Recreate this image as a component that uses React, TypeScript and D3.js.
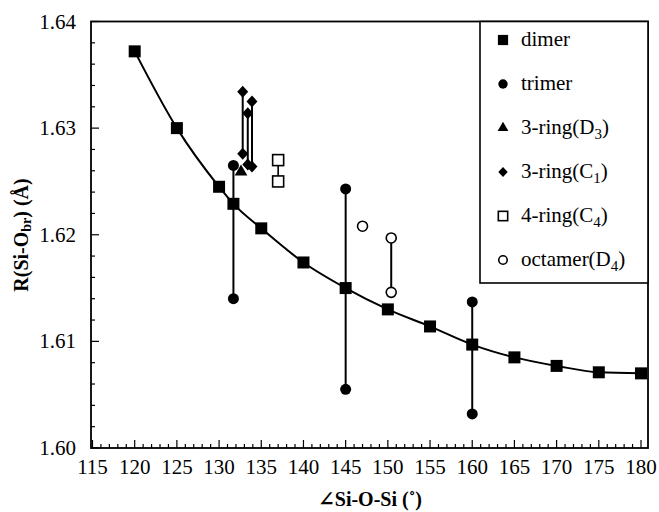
import React from "react";
import * as d3 from "d3";

// Si–O bridging bond length vs Si–O–Si angle for several silicate clusters
const dimerAngle = [120, 125, 130, 131.7, 135, 140, 145, 150, 155, 160, 165, 170, 175, 180];
const dimerR = [1.6372, 1.63, 1.6245, 1.6229, 1.6206, 1.6174, 1.615, 1.613, 1.6114, 1.6097, 1.6085, 1.6077, 1.6071, 1.607];

// trimer: pairs of bonds at the same angle (top, bottom)
const trimerAngle = [131.7, 145, 160];
const trimerTop = [1.6265, 1.6243, 1.6137];
const trimerBottom = [1.614, 1.6055, 1.6032];

const ring3D3Angle = [132.6];
const ring3D3R = [1.6259];

const ring3C1Angle = [132.8, 133.4, 133.9];
const ring3C1Top = [1.6334, 1.6314, 1.6325];
const ring3C1Bottom = [1.6276, 1.6266, 1.6264];

const ring4Angle = [137.0];
const ring4Top = [1.627];
const ring4Bottom = [1.625];

const octamerSingleAngle = [147.0];
const octamerSingleR = [1.6208];
const octamerPairAngle = [150.4];
const octamerPairTop = [1.6197];
const octamerPairBottom = [1.6146];

const xTicks = [115, 120, 125, 130, 135, 140, 145, 150, 155, 160, 165, 170, 175, 180];
const yTicks = [1.6, 1.61, 1.62, 1.63, 1.64];

const legendItems = [
  { key: "dimer", label: "dimer", sub: "" },
  { key: "trimer", label: "trimer", sub: "" },
  { key: "d3", label: "3-ring(D", sub: "3" },
  { key: "c1", label: "3-ring(C", sub: "1" },
  { key: "c4", label: "4-ring(C", sub: "4" },
  { key: "oct", label: "octamer(D", sub: "4" },
];

const W = 659;
const H = 512;
const frame = { left: 91, right: 648, top: 21.5, bottom: 448 };
const FONT = '"Liberation Serif", "DejaVu Serif", "Times New Roman", Tinos, serif';

const x = d3.scaleLinear().domain([115, 180]).range([92.5, 641]);
const y = d3.scaleLinear().domain([1.6, 1.64]).range([448, 21.5]);

function Marker({ kind, cx, cy, s = 1 }: { kind: string; cx: number; cy: number; s?: number }) {
  switch (kind) {
    case "dimer": {
      const h = 6 * s;
      return <rect x={cx - h} y={cy - h} width={2 * h} height={2 * h} fill="#000" />;
    }
    case "trimer":
      return <circle cx={cx} cy={cy} r={5.5 * s} fill="#000" />;
    case "d3": {
      const p = d3.symbol(d3.symbolTriangle, 70 * s * s)();
      return <path d={p || ""} transform={`translate(${cx},${cy})`} fill="#000" />;
    }
    case "c1": {
      const w = 5.5 * s;
      const h = 6 * s;
      return (
        <path
          d={`M${cx},${cy - h}L${cx + w},${cy}L${cx},${cy + h}L${cx - w},${cy}Z`}
          fill="#000"
        />
      );
    }
    case "c4": {
      const h = 5.5 * s;
      return <rect x={cx - h} y={cy - h} width={2 * h} height={2 * h} fill="#fff" stroke="#000" strokeWidth={1.6} />;
    }
    case "oct":
      return <circle cx={cx} cy={cy} r={5 * s} fill="#fff" stroke="#000" strokeWidth={1.6} />;
    default:
      return null;
  }
}

export default function App() {
  const curve = d3
    .line<number>()
    .x((_, i) => x(dimerAngle[i]))
    .y((d) => y(d))
    .curve(d3.curveMonotoneX)(dimerR) || "";

  const minorX = d3.range(115, 181, 1);
  const minorY = d3.range(0, 21).map((i) => 1.6 + i * 0.002);

  const legend = { x0: 480, y0: frame.top, x1: frame.right, y1: 283 };
  const txt = { fontFamily: FONT };

  return (
    <svg
      width={W}
      height={H}
      viewBox={`0 0 ${W} ${H}`}
      style={{ position: "absolute", left: 0, top: 0, background: "#fff", fontFamily: FONT }}
    >
      {/* frame */}
      <rect
        x={frame.left}
        y={frame.top}
        width={frame.right - frame.left}
        height={frame.bottom - frame.top}
        fill="none"
        stroke="#000"
        strokeWidth={1.8}
      />

      {/* x ticks (inward) */}
      {minorX.map((v) => (
        <line
          key={`xm${v}`}
          x1={x(v)}
          x2={x(v)}
          y1={frame.bottom}
          y2={frame.bottom - (v % 5 === 0 ? 8 : 4)}
          stroke="#000"
          strokeWidth={1.2}
        />
      ))}
      {xTicks.map((v) => (
        <text key={`xl${v}`} x={x(v)} y={474} textAnchor="middle" fontSize={21} style={txt}>
          {v}
        </text>
      ))}

      {/* y ticks (inward) */}
      {minorY.map((v, i) => (
        <line
          key={`ym${i}`}
          x1={frame.left}
          x2={frame.left + (i % 5 === 0 ? 8 : 4)}
          y1={y(v)}
          y2={y(v)}
          stroke="#000"
          strokeWidth={1.2}
        />
      ))}
      {yTicks.map((v) => (
        <text key={`yl${v}`} x={76} y={y(v) + 7} textAnchor="end" fontSize={21} style={txt}>
          {v.toFixed(2)}
        </text>
      ))}

      {/* axis titles */}
      <text x={370} y={506} textAnchor="middle" fontSize={20} fontWeight="bold" style={txt}>
        ∠Si-O-Si (˚)
      </text>
      <text transform="translate(28,235) rotate(-90)" textAnchor="middle" fontSize={20} fontWeight="bold" style={txt}>
        R(Si-O
        <tspan fontSize={14} dy={3}>br</tspan>
        <tspan dy={-3}>) (Å)</tspan>
      </text>

      {/* dimer fit curve */}
      <path d={curve} fill="none" stroke="#000" strokeWidth={2} />

      {/* connecting lines for paired bonds */}
      {trimerAngle.map((a, i) => (
        <line key={`tl${i}`} x1={x(a)} x2={x(a)} y1={y(trimerTop[i])} y2={y(trimerBottom[i])} stroke="#000" strokeWidth={2} />
      ))}
      {ring3C1Angle.map((a, i) => (
        <line key={`cl${i}`} x1={x(a)} x2={x(a)} y1={y(ring3C1Top[i])} y2={y(ring3C1Bottom[i])} stroke="#000" strokeWidth={2} />
      ))}
      {ring4Angle.map((a, i) => (
        <line key={`rl${i}`} x1={x(a)} x2={x(a)} y1={y(ring4Top[i])} y2={y(ring4Bottom[i])} stroke="#000" strokeWidth={1.6} />
      ))}
      {octamerPairAngle.map((a, i) => (
        <line key={`ol${i}`} x1={x(a)} x2={x(a)} y1={y(octamerPairTop[i])} y2={y(octamerPairBottom[i])} stroke="#000" strokeWidth={2} />
      ))}

      {/* markers */}
      {dimerAngle.map((a, i) => (
        <Marker key={`d${i}`} kind="dimer" cx={x(a)} cy={y(dimerR[i])} />
      ))}
      {ring3D3Angle.map((a, i) => (
        <Marker key={`t3${i}`} kind="d3" cx={x(a)} cy={y(ring3D3R[i])} />
      ))}
      {trimerAngle.map((a, i) => (
        <g key={`tr${i}`}>
          <Marker kind="trimer" cx={x(a)} cy={y(trimerTop[i])} />
          <Marker kind="trimer" cx={x(a)} cy={y(trimerBottom[i])} />
        </g>
      ))}
      {ring3C1Angle.map((a, i) => (
        <g key={`c1${i}`}>
          <Marker kind="c1" cx={x(a)} cy={y(ring3C1Top[i])} />
          <Marker kind="c1" cx={x(a)} cy={y(ring3C1Bottom[i])} />
        </g>
      ))}
      {ring4Angle.map((a, i) => (
        <g key={`c4${i}`}>
          <Marker kind="c4" cx={x(a)} cy={y(ring4Top[i])} />
          <Marker kind="c4" cx={x(a)} cy={y(ring4Bottom[i])} />
        </g>
      ))}
      {octamerSingleAngle.map((a, i) => (
        <Marker key={`os${i}`} kind="oct" cx={x(a)} cy={y(octamerSingleR[i])} />
      ))}
      {octamerPairAngle.map((a, i) => (
        <g key={`op${i}`}>
          <Marker kind="oct" cx={x(a)} cy={y(octamerPairTop[i])} />
          <Marker kind="oct" cx={x(a)} cy={y(octamerPairBottom[i])} />
        </g>
      ))}

      {/* legend */}
      <rect
        x={legend.x0}
        y={legend.y0}
        width={legend.x1 - legend.x0}
        height={legend.y1 - legend.y0}
        fill="#fff"
        stroke="#000"
        strokeWidth={1.6}
      />
      {legendItems.map((it, i) => {
        const cy = 40 + i * 44;
        return (
          <g key={it.key}>
            <Marker kind={it.key} cx={503} cy={cy} s={0.85} />
            <text x={521} y={cy + 6} fontSize={21} style={txt}>
              {it.label}
              {it.sub && (
                <>
                  <tspan fontSize={15} dy={5}>{it.sub}</tspan>
                  <tspan dy={-5}>)</tspan>
                </>
              )}
            </text>
          </g>
        );
      })}
    </svg>
  );
}
